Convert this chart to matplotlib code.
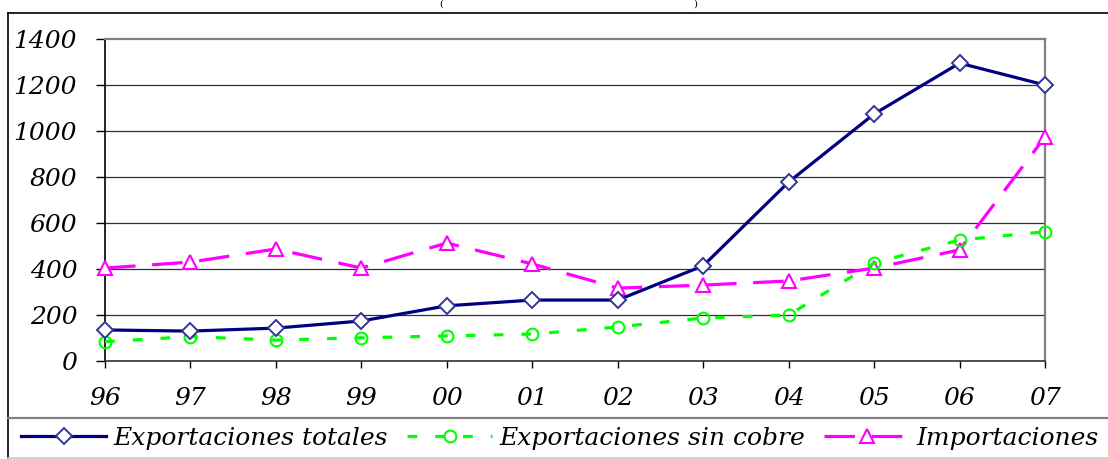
import matplotlib
matplotlib.use("Agg")
import matplotlib.pyplot as plt
from matplotlib.lines import Line2D

plt.rcParams['lines.scale_dashes'] = False

years = ["96", "97", "98", "99", "00", "01", "02", "03", "04", "05", "06", "07"]
export_total = [135, 130, 143, 174, 240, 265, 265, 414, 778, 1074, 1295, 1200]
export_sin_cobre = [84, 106, 91, 101, 109, 117, 148, 187, 200, 426, 526, 562]
importaciones = [404, 430, 487, 404, 513, 422, 317, 330, 348, 404, 483, 974]
yticks = [0, 200, 400, 600, 800, 1000, 1200, 1400]

W, H = 1108, 459
fig = plt.figure(figsize=(W / 100, H / 100), dpi=100)
ax = fig.add_axes([105 / W, 1 - 361 / H, (1045 - 105) / W, (361 - 39) / H])

font = dict(family='DejaVu Serif', style='italic', size=18)

x = list(range(len(years)))
ax.plot(x, export_total, color='#000080', lw=2.3, marker='D', ms=8,
        mfc='white', mec='#333399', mew=1.4, label='Exportaciones totales', zorder=5, clip_on=False)
ax.plot(x, export_sin_cobre, color='#00FF00', lw=2.3, dashes=(7, 13), marker='o', ms=8.5,
        mfc='none', mec='#00FF00', mew=1.5, label='Exportaciones sin cobre', zorder=4, clip_on=False)
ax.plot(x, importaciones, color='#FF00FF', lw=2.3, dashes=(22, 12), marker='^', ms=9.5,
        mfc='white', mec='#FF00FF', mew=1.5, label='Importaciones', zorder=3, clip_on=False)

ax.set_xlim(0, len(years) - 1)
ax.set_ylim(0, 1400)
ax.set_xticks(x)
ax.set_xticklabels(years, fontdict=font)
ax.set_yticks(yticks)
ax.set_yticklabels([str(v) for v in yticks], fontdict=font)
ax.tick_params(axis='x', direction='out', length=5, width=1, pad=13.5, color='black')
ax.tick_params(axis='y', direction='out', length=6.5, width=1, pad=13.5, color='black')
for v in yticks[1:-1]:
    ax.axhline(v, color='#303030', lw=0.9, zorder=1)
ax.spines['left'].set_color('black')
ax.spines['left'].set_linewidth(1.2)
ax.spines['bottom'].set_color('#303030')
ax.spines['bottom'].set_linewidth(1.2)
ax.spines['top'].set_color('#808080')
ax.spines['top'].set_linewidth(1.6)
ax.spines['right'].set_color('#808080')
ax.spines['right'].set_linewidth(1.6)

# outer border and legend frame
fig.add_artist(Line2D([8 / W, 8 / W], [0, 1 - 13 / H], color='black', lw=1.2, transform=fig.transFigure))
fig.add_artist(Line2D([8 / W, 1], [1 - 13 / H, 1 - 13 / H], color='black', lw=1.2, transform=fig.transFigure))
fig.add_artist(Line2D([8 / W, 1], [1 - 418 / H, 1 - 418 / H], color='#808080', lw=1.6, transform=fig.transFigure))
fig.add_artist(Line2D([8 / W, 1], [1 - 457.5 / H, 1 - 457.5 / H], color='#C8C8C8', lw=1.2, transform=fig.transFigure))

# title parentheses (mostly cut off in the reference)
fig.text(441 / W, 1, "(", ha='center', va='top', fontdict=dict(family='DejaVu Serif', size=7))
fig.text(695 / W, 1, ")", ha='center', va='top', fontdict=dict(family='DejaVu Serif', size=7))

handles, labels = ax.get_legend_handles_labels()
leg = fig.legend(handles, labels, loc='center', bbox_to_anchor=(560 / W, 1 - 438 / H), ncol=3,
                 frameon=False, prop=dict(family='DejaVu Serif', style='italic', size=18),
                 handlelength=3.4, handletextpad=0.3, columnspacing=0.75, borderpad=0, borderaxespad=0)

fig.savefig("out.png", dpi=100)
